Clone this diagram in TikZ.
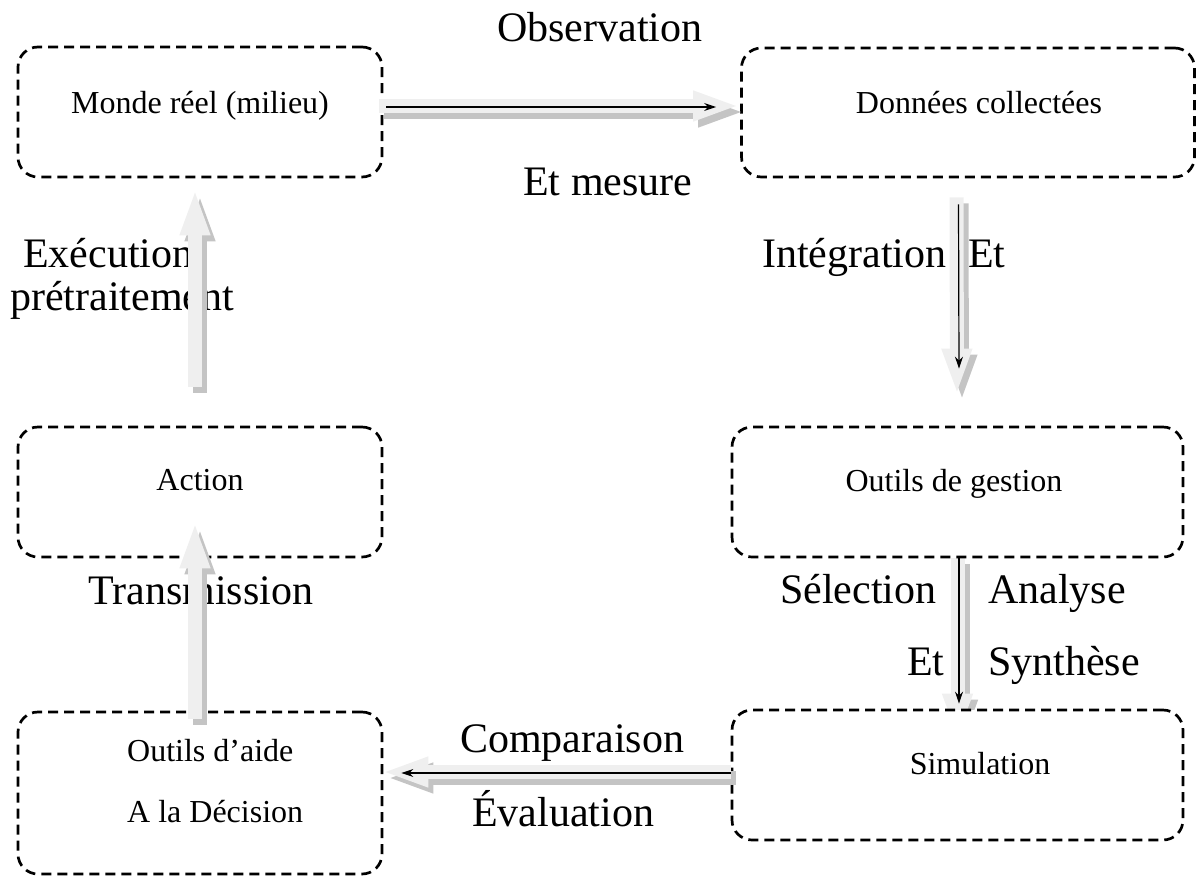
\documentclass[tikz,border=0pt]{standalone}
\usepackage{fontspec}
\setmainfont{Liberation Serif}
\usetikzlibrary{arrows.meta,calc}
\pgfdeclarelayer{back}
\pgfsetlayers{back,main}
\definecolor{arrfill}{HTML}{EFEFEF}
\definecolor{arrshadow}{HTML}{C4C4C4}
\tikzset{
 box/.style={draw, line width=2.7pt, dash pattern=on 10pt off 6pt, rounded corners=20pt, fill=white, inner sep=0pt, rectangle},
 boxtext/.style={font=\fontsize{32}{38}\selectfont, inner sep=0pt, anchor=base},
 lbl/.style={font=\fontsize{42}{50}\selectfont, inner sep=0pt, anchor=base west},
 fatmain/.style={line width=14pt, draw=arrfill, -{Triangle[length=47pt,width=27pt]}},
 fatshadow/.style={line width=14pt, draw=arrshadow, -{Triangle[length=47pt,width=27pt]}, transform canvas={shift={(5pt,-6pt)}}},
 thinarr/.style={line width=1.2pt, -{Stealth[length=12pt,width=8pt]}},
}
\newcommand\fatarrow[2]{\draw[fatshadow] #1 -- #2; \draw[fatmain] #1 -- #2;}
\begin{document}
\begin{tikzpicture}[x=1pt,y=-1pt]
\useasboundingbox (0,0) rectangle (1197,876);
% boxes
\node[box, minimum width=364pt, minimum height=130pt] (monde) at (200,112) {};
\node[box, minimum width=453pt, minimum height=129pt] (donnees) at (968,112.5) {};
\node[box, minimum width=451pt, minimum height=130pt] (gestion) at (957.5,492) {};
\node[box, minimum width=451pt, minimum height=130pt] (simu) at (957.5,775) {};
\node[box, minimum width=364pt, minimum height=130pt] (action) at (200,492) {};
\node[box, minimum width=364pt, minimum height=162pt] (aide) at (200,793) {};
% box texts
\node[boxtext] (tmonde) at (200,113) {Monde réel (milieu)};
\node[boxtext] (tdon) at (979,113) {Données collectées};
\node[boxtext] (tges) at (954,491) {Outils de gestion};
\node[boxtext] (tsim) at (980,774) {Simulation};
\node[boxtext] (tact) at (200,490) {Action};
\node[boxtext, anchor=base west] (taide1) at (127,761) {Outils d’aide};
\node[boxtext, anchor=base west] (taide2) at (127,822) {A la Décision};
% labels
\node[lbl] (l1) at (497,41) {Observation};
\node[lbl] (l2) at (523,195) {Et mesure};
\node[lbl] (l3) at (762,267) {Intégration};
\node[lbl] (l4) at (968,267) {Et};
\node[lbl] (l5) at (23,267) {Exécution};
\node[lbl] (l6) at (10,310) {prétraitement};
\node[lbl] (l7) at (88,604) {Transmission};
\node[lbl] (l8) at (780,603) {Sélection};
\node[lbl] (l9) at (988,603) {Analyse};
\node[lbl] (l10) at (907,675) {Et};
\node[lbl] (l11) at (988,675) {Synthèse};
\node[lbl] (l12) at (460,752) {Comparaison};
\node[lbl] (l13) at (472,826) {Évaluation};
% arrows
\fatarrow{($(monde.east)+(-4,-6)$)}{($(donnees.west)+(0,-6.5)$)}
\draw[thinarr] ($(monde.east)+(3,-5)$) -- ($(donnees.west)+(-24,-5.5)$);
\fatarrow{($(donnees.south)+(-11.5,19)$)}{($(gestion.north)+(-0.5,-30)$)}
\draw[thinarr] ($(donnees.south)+(-9.5,26)$) -- ($(gestion.north)+(1.5,-57)$);
\begin{pgfonlayer}{back}
\fatarrow{(gestion.south)}{($(simu.north)+(0,32)$)}
\end{pgfonlayer}
\draw[thinarr] ($(gestion.south)+(1.5,0)$) -- ($(simu.north)+(1.5,-5)$);
\fatarrow{($(action.north)+(-5,-39)$)}{($(monde.south)+(-5,10)$)}
\fatarrow{($(simu.west)+(0,-3)$)}{($(aide.east)+(-2,-21)$)}
\draw[thinarr] ($(simu.west)+(0,-2)$) -- ($(aide.east)+(18,-20)$);
\fatarrow{($(aide.north)+(-5,8)$)}{($(action.south)+(-5,-37)$)}
\end{tikzpicture}
\end{document}
